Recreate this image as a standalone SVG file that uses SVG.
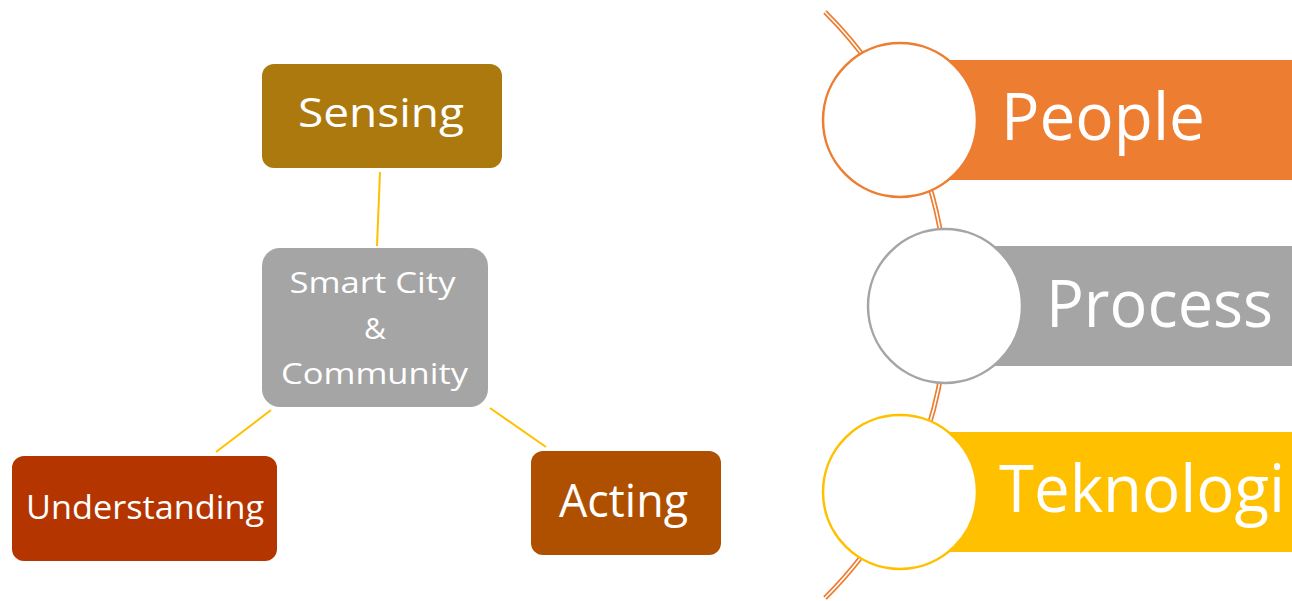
<svg xmlns="http://www.w3.org/2000/svg" width="1292" height="601" viewBox="0 0 1292 601">
<style>
.lbl{font-family:"Open Sans","Noto Sans",sans-serif;fill:#fff}
.big{font-family:"Open Sans","Noto Sans",sans-serif;fill:#fff;font-size:66px}
.conn{stroke:#FFC000;stroke-width:2;fill:none}
.ring{fill:#fff;stroke-width:2.5}
</style>
<rect width="1292" height="601" fill="#fff"/>
<g id="connectors">
<line class="conn" x1="380" y1="172" x2="377" y2="246"/>
<line class="conn" x1="271" y1="410" x2="216" y2="452"/>
<line class="conn" x1="490" y1="408" x2="546" y2="447"/>
</g>
<g id="sensing">
<rect x="262" y="64" width="240" height="104" rx="12" fill="#AB790E"/>
<text class="lbl" x="298" y="127" font-size="41" textLength="166" lengthAdjust="spacingAndGlyphs">Sensing</text>
</g>
<g id="smartcity">
<rect x="262" y="248" width="226" height="159" rx="18" fill="#A5A5A5"/>
<text class="lbl" x="289.5" y="293" font-size="30" textLength="166" lengthAdjust="spacingAndGlyphs">Smart City</text>
<text class="lbl" x="375" y="338.5" font-size="30" text-anchor="middle">&amp;</text>
<text class="lbl" x="281" y="383.5" font-size="30" textLength="187" lengthAdjust="spacingAndGlyphs">Community</text>
</g>
<g id="understanding">
<rect x="12" y="456" width="265" height="105" rx="12" fill="#B43500"/>
<text class="lbl" x="26" y="518.5" font-size="33" textLength="238" lengthAdjust="spacingAndGlyphs">Understanding</text>
</g>
<g id="acting">
<rect x="531" y="451" width="190" height="104" rx="12" fill="#AE5000"/>
<text class="lbl" x="559" y="517" font-size="45" textLength="129" lengthAdjust="spacingAndGlyphs">Acting</text>
</g>
<g id="spine">
<path d="M825 12 A413 413 0 0 1 825 598" fill="none" stroke="#ED7D31" stroke-width="5"/>
<path d="M825 12 A413 413 0 0 1 825 598" fill="none" stroke="#fff" stroke-width="1.6"/>
</g>
<g id="people">
<rect x="940" y="60" width="352" height="120" fill="#ED7D31"/>
<circle class="ring" cx="900" cy="120" r="77" stroke="#ED7D31"/>
<text class="big" x="1001" y="140" font-size="65" textLength="204" lengthAdjust="spacingAndGlyphs">People</text>
</g>
<g id="process">
<rect x="985" y="246" width="307" height="120" fill="#A5A5A5"/>
<circle class="ring" cx="945" cy="306" r="77" stroke="#A5A5A5"/>
<text class="big" x="1046" y="326.7" textLength="227" lengthAdjust="spacingAndGlyphs">Process</text>
</g>
<g id="teknologi">
<rect x="940" y="432" width="352" height="120" fill="#FFC000"/>
<circle class="ring" cx="900" cy="492" r="77" stroke="#FFC000"/>
<text class="big" x="999" y="511.7" font-size="65" textLength="286" lengthAdjust="spacingAndGlyphs">Teknologi</text>
</g>
</svg>
